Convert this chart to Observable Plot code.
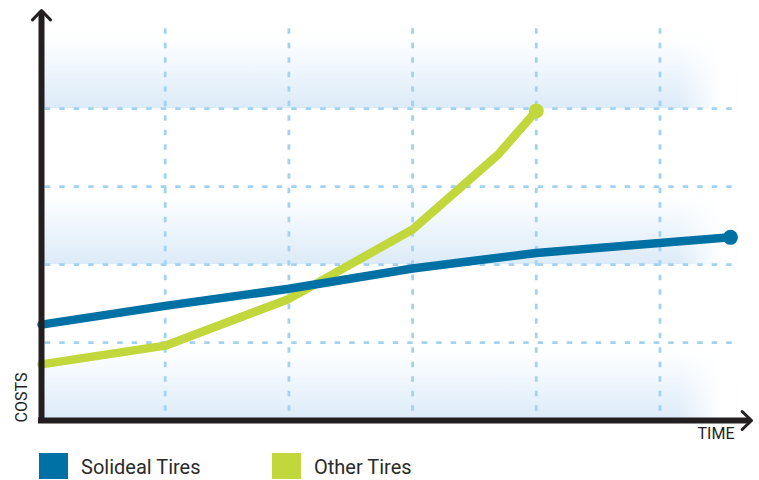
<!DOCTYPE html>
<html>
<head>
<meta charset="utf-8">
<script src="https://cdn.jsdelivr.net/npm/d3@7"></script>
<script src="https://cdn.jsdelivr.net/npm/@observablehq/plot@0.6"></script>
<style>
  html, body { margin: 0; padding: 0; background: #fff; }
  #wrap { position: relative; width: 759px; height: 480px; overflow: hidden; font-family: Roboto, "Noto Sans", sans-serif; }
  .sw { position: absolute; top: 453px; width: 29px; height: 26px; }
  .lab { position: absolute; top: 453px; font-size: 20px; color: #2a2a2a; line-height: 28px; white-space: nowrap; }
</style>
</head>
<body>
<div id="wrap"></div>
<script>
// ---- data ----
const solidealTime = [0, 1, 2, 3, 4, 5.57];
const solidealCost = [1.23, 1.47, 1.69, 1.95, 2.15, 2.35];
const otherTime = [0, 1, 2, 3, 3.69, 4];
const otherCost = [0.72, 0.96, 1.56, 2.45, 3.41, 3.97];
const gridTimes = [1, 2, 3, 4, 5];
const gridCosts = [1, 2, 3, 4];
const bandLow = [0, 2, 4];
const bandHigh = [1, 3, 5];
const seriesNames = ["Solideal Tires", "Other Tires"];
const seriesColors = ["#0071a5", "#c1d73b"];
const axisLabels = ["TIME", "COSTS"];

const solideal = solidealTime.map((t, i) => ({t, c: solidealCost[i]}));
const other = otherTime.map((t, i) => ({t, c: otherCost[i]}));
const bands = bandLow.map((lo, i) => ({lo, hi: bandHigh[i]}));

const xMax = 5.74, yMax = 5.26;
const ink = "#231f20";
const gridColor = "#a3d2f0";

const svg = Plot.plot({
  width: 759,
  height: 445,
  marginLeft: 41,
  marginRight: 8,
  marginTop: 10,
  marginBottom: 25,
  x: {domain: [0, xMax], axis: null},
  y: {domain: [0, yMax], axis: null},
  style: {background: "white", fontFamily: "Roboto, 'Noto Sans', sans-serif", overflow: "visible"},
  marks: [
    // background bands
    Plot.rect(bands, {x1: 0, x2: 5.62, y1: "lo", y2: "hi", fill: "url(#bandGrad)"}),
    // right-hand fade
    Plot.rect([0], {x1: 5.15, x2: 5.62, y1: 0, y2: 5.1, fill: "url(#fadeRight)"}),
    // grid
    Plot.ruleY(gridCosts, {x1: 0.03, x2: 5.64, stroke: gridColor, strokeWidth: 2.8, strokeDasharray: "5.5 9", strokeLinecap: "butt"}),
    Plot.ruleX(gridTimes, {y1: 0.12, y2: 5.12, stroke: gridColor, strokeWidth: 2.8, strokeDasharray: "5.5 9", strokeLinecap: "butt"}),
    // series
    Plot.line(other, {x: "t", y: "c", stroke: seriesColors[1], strokeWidth: 8.5, strokeLinejoin: "round"}),
    Plot.dot(other.slice(-1), {x: "t", y: "c", r: 7.5, fill: seriesColors[1]}),
    Plot.line(solideal, {x: "t", y: "c", stroke: seriesColors[0], strokeWidth: 8.5, strokeLinejoin: "round"}),
    Plot.dot(solideal.slice(-1), {x: "t", y: "c", r: 7.5, fill: seriesColors[0]}),
    // axes shafts
    Plot.ruleX([0], {y1: 0, y2: yMax - 0.06, stroke: ink, strokeWidth: 6, strokeLinecap: "square"}),
    Plot.ruleY([0], {x1: 0, x2: xMax - 0.03, stroke: ink, strokeWidth: 6, strokeLinecap: "square"}),
    // arrow heads
    Plot.arrow([0], {x1: 0, y1: yMax - 0.5, x2: 0, y2: yMax, stroke: ink, strokeWidth: 3, headLength: 6.5, headAngle: 88}),
    Plot.arrow([0], {x1: xMax - 0.4, y1: 0, x2: xMax, y2: 0, stroke: ink, strokeWidth: 3, headLength: 6.5, headAngle: 88}),
    // axis labels
    Plot.text([axisLabels[0]], {frameAnchor: "bottom-right", dx: -17, dy: 18, textAnchor: "end", fontSize: 16, fill: ink}),
    Plot.text([axisLabels[1]], {frameAnchor: "bottom-left", dx: -15, dy: -23, rotate: -90, textAnchor: "middle", fontSize: 16, fill: ink})
  ]
});

const defs = d3.select(svg).insert("defs", ":first-child");
const bg = defs.append("linearGradient").attr("id", "bandGrad").attr("x1", 0).attr("y1", 0).attr("x2", 0).attr("y2", 1);
bg.append("stop").attr("offset", "0%").attr("stop-color", "#ffffff");
bg.append("stop").attr("offset", "15%").attr("stop-color", "#fdfeff");
bg.append("stop").attr("offset", "100%").attr("stop-color", "#dcebf8");
const fg = defs.append("linearGradient").attr("id", "fadeRight").attr("x1", 0).attr("y1", 0).attr("x2", 1).attr("y2", 0);
fg.append("stop").attr("offset", "0%").attr("stop-color", "#ffffff").attr("stop-opacity", 0);
fg.append("stop").attr("offset", "75%").attr("stop-color", "#ffffff").attr("stop-opacity", 1);
fg.append("stop").attr("offset", "100%").attr("stop-color", "#ffffff").attr("stop-opacity", 1);

const wrap = document.getElementById("wrap");
wrap.appendChild(svg);
svg.style.position = "absolute";
svg.style.left = "0px";
svg.style.top = "0px";

const legendPos = [{sw: 39, lab: 81}, {sw: 272, lab: 314}];
seriesNames.forEach((name, i) => {
  const s = document.createElement("div");
  s.className = "sw";
  s.style.left = legendPos[i].sw + "px";
  s.style.background = seriesColors[i];
  wrap.appendChild(s);
  const l = document.createElement("div");
  l.className = "lab";
  l.style.left = legendPos[i].lab + "px";
  l.textContent = name;
  wrap.appendChild(l);
});
</script>
</body>
</html>
